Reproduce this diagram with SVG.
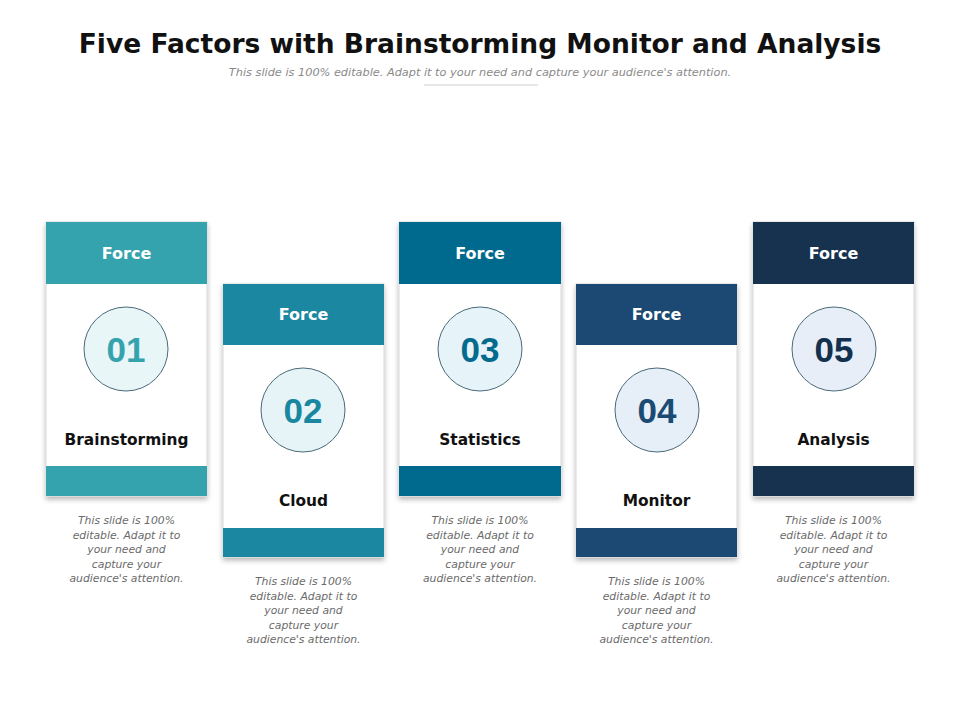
<svg xmlns="http://www.w3.org/2000/svg" width="960" height="720" viewBox="0 0 960 720">
<defs>
<filter id="sh" x="-10%" y="-10%" width="120%" height="125%">
<feDropShadow dx="0" dy="3" stdDeviation="2.5" flood-color="#000" flood-opacity="0.28"/>
</filter>
<style>
.title{font-family:"DejaVu Sans","Liberation Sans",sans-serif;font-weight:bold;font-size:26.5px;fill:#111;text-anchor:middle}
.sub{font-family:"DejaVu Sans","Liberation Sans",sans-serif;font-style:italic;font-size:11.3px;fill:#8a8a8a;text-anchor:middle}
.body{fill:#fff;stroke:#d8d8d8;stroke-width:1}
.hd{font-family:"DejaVu Sans","Liberation Sans",sans-serif;font-weight:bold;font-size:16px;fill:#fff;text-anchor:middle}
.num{font-family:"Liberation Sans",Arial,sans-serif;font-weight:bold;font-size:35px;text-anchor:middle}
.lbl{font-family:"DejaVu Sans","Liberation Sans",sans-serif;font-weight:bold;font-size:15.4px;fill:#111;text-anchor:middle}
.desc{font-family:"DejaVu Sans","Liberation Sans",sans-serif;font-style:italic;font-size:10.8px;fill:#6a6a6a;text-anchor:middle}
.circ{stroke:#4a6a78;stroke-width:1}
</style>
</defs>
<rect width="960" height="720" fill="#fff"/>
<text class="title" x="480" y="53">Five Factors with Brainstorming Monitor and Analysis</text>
<text class="sub" x="480" y="76">This slide is 100% editable. Adapt it to your need and capture your audience's attention.</text>
<line x1="424" y1="85" x2="538" y2="85" stroke="#d0d0d0" stroke-width="1"/>

<g id="node1">
<g filter="url(#sh)">
<rect class="body" x="46" y="222" width="161" height="274"/>
<rect x="46" y="222" width="161" height="62" fill="#35a3ad"/>
<rect x="46" y="466" width="161" height="30" fill="#35a3ad"/>
</g>
<text class="hd" x="126.5" y="259">Force</text>
<circle class="circ" cx="126" cy="349" r="42" fill="#e8f6f8"/>
<text class="num" x="126" y="362" fill="#35a3ad">01</text>
<text class="lbl" x="126.5" y="445">Brainstorming</text>
<text class="desc" x="126.5" y="524">This slide is 100%</text>
<text class="desc" x="126.5" y="538.5">editable. Adapt it to</text>
<text class="desc" x="126.5" y="553">your need and</text>
<text class="desc" x="126.5" y="567.5">capture your</text>
<text class="desc" x="126.5" y="582">audience's attention.</text>
</g>

<g id="node2">
<g filter="url(#sh)">
<rect class="body" x="223" y="284" width="161" height="273"/>
<rect x="223" y="284" width="161" height="61" fill="#1a87a0"/>
<rect x="223" y="528" width="161" height="29" fill="#1a87a0"/>
</g>
<text class="hd" x="303.5" y="320">Force</text>
<circle class="circ" cx="303" cy="410" r="42" fill="#e6f4f8"/>
<text class="num" x="303" y="423" fill="#1a87a0">02</text>
<text class="lbl" x="303.5" y="506">Cloud</text>
<text class="desc" x="303.5" y="585">This slide is 100%</text>
<text class="desc" x="303.5" y="599.5">editable. Adapt it to</text>
<text class="desc" x="303.5" y="614">your need and</text>
<text class="desc" x="303.5" y="628.5">capture your</text>
<text class="desc" x="303.5" y="643">audience's attention.</text>
</g>

<g id="node3">
<g filter="url(#sh)">
<rect class="body" x="399" y="222" width="162" height="274"/>
<rect x="399" y="222" width="162" height="62" fill="#046b8e"/>
<rect x="399" y="466" width="162" height="30" fill="#046b8e"/>
</g>
<text class="hd" x="480" y="259">Force</text>
<circle class="circ" cx="480" cy="349" r="42" fill="#e6f3f8"/>
<text class="num" x="480" y="362" fill="#046b8e">03</text>
<text class="lbl" x="480" y="445">Statistics</text>
<text class="desc" x="480" y="524">This slide is 100%</text>
<text class="desc" x="480" y="538.5">editable. Adapt it to</text>
<text class="desc" x="480" y="553">your need and</text>
<text class="desc" x="480" y="567.5">capture your</text>
<text class="desc" x="480" y="582">audience's attention.</text>
</g>

<g id="node4">
<g filter="url(#sh)">
<rect class="body" x="576" y="284" width="161" height="273"/>
<rect x="576" y="284" width="161" height="61" fill="#1b4a73"/>
<rect x="576" y="528" width="161" height="29" fill="#1b4a73"/>
</g>
<text class="hd" x="656.5" y="320">Force</text>
<circle class="circ" cx="657" cy="410" r="42" fill="#e6eff8"/>
<text class="num" x="657" y="423" fill="#1b4a73">04</text>
<text class="lbl" x="656.5" y="506">Monitor</text>
<text class="desc" x="656.5" y="585">This slide is 100%</text>
<text class="desc" x="656.5" y="599.5">editable. Adapt it to</text>
<text class="desc" x="656.5" y="614">your need and</text>
<text class="desc" x="656.5" y="628.5">capture your</text>
<text class="desc" x="656.5" y="643">audience's attention.</text>
</g>

<g id="node5">
<g filter="url(#sh)">
<rect class="body" x="753" y="222" width="161" height="274"/>
<rect x="753" y="222" width="161" height="62" fill="#13304f"/>
<rect x="753" y="466" width="161" height="30" fill="#13304f"/>
</g>
<text class="hd" x="833.5" y="259">Force</text>
<circle class="circ" cx="834" cy="349" r="42" fill="#e8eef7"/>
<text class="num" x="834" y="362" fill="#13304f">05</text>
<text class="lbl" x="833.5" y="445">Analysis</text>
<text class="desc" x="833.5" y="524">This slide is 100%</text>
<text class="desc" x="833.5" y="538.5">editable. Adapt it to</text>
<text class="desc" x="833.5" y="553">your need and</text>
<text class="desc" x="833.5" y="567.5">capture your</text>
<text class="desc" x="833.5" y="582">audience's attention.</text>
</g>

<g id="connectors"></g>
</svg>
